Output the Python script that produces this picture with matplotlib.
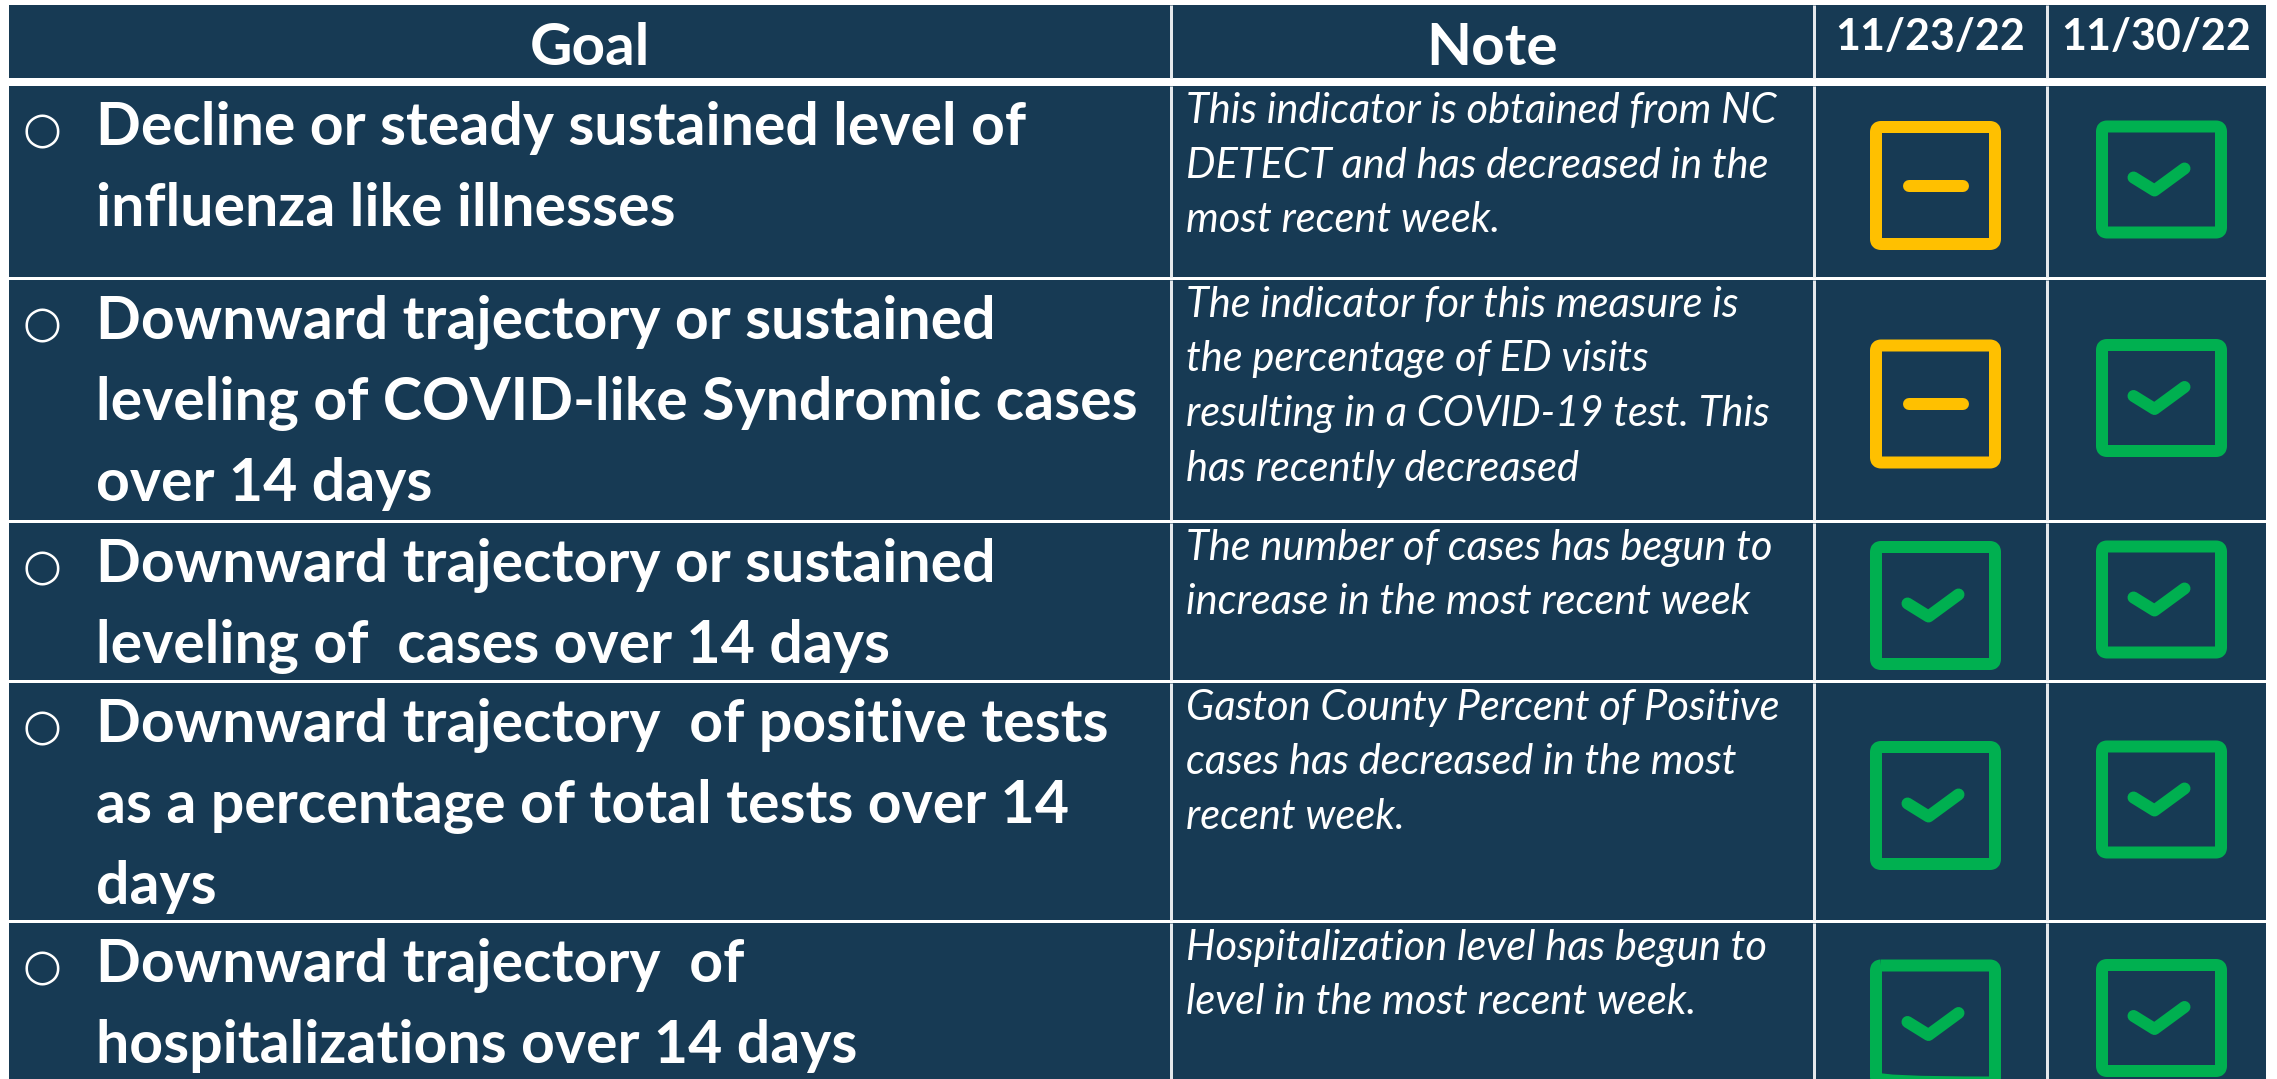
import matplotlib.pyplot as plt
from matplotlib.patches import Rectangle, FancyBboxPatch

# table content
headers = ["Goal", "Note", "11/23/22", "11/30/22"]

goals = [
    ["Decline or steady sustained level of", "influenza like illnesses"],
    ["Downward trajectory or sustained", "leveling of COVID-like Syndromic cases", "over 14 days"],
    ["Downward trajectory or sustained", "leveling of  cases over 14 days"],
    ["Downward trajectory  of positive tests", "as a percentage of total tests over 14", "days"],
    ["Downward trajectory  of", "hospitalizations over 14 days"],
]

notes = [
    ["This indicator is obtained from NC", "DETECT and has decreased in the", "most recent week."],
    ["The indicator for this measure is", "the percentage of ED visits",
     "resulting in a COVID-19 test. This", "has recently decreased"],
    ["The number of cases has begun to", "increase in the most recent week"],
    ["Gaston County Percent of Positive", "cases has decreased in the most", "recent week."],
    ["Hospitalization level has begun to", "level in the most recent week."],
]

# status per week: "steady" = yellow dash, "met" = green check
status_1123 = ["steady", "steady", "met", "met", "met"]
status_1130 = ["met", "met", "met", "met", "met"]

# layout (pixels)
W, H = 2277, 1079
col_edges = [9, 1171, 1814, 2047, 2266]
header_span = (5, 78)
row_tops = [86, 280, 523, 683, 923]
row_bots = [277, 520, 680, 920, 1117]

navy = "#173a54"
line_col = "#e4e8ec"
yellow = "#ffc000"
green = "#00b050"
px = 72 / 100  # points per pixel at dpi 100

fig = plt.figure(figsize=(W / 100, H / 100), dpi=100, facecolor="white")
ax = fig.add_axes([0, 0, 1, 1])
ax.set_xlim(0, W)
ax.set_ylim(H, 0)
ax.axis("off")

# cell backgrounds
bands = [header_span] + list(zip(row_tops, row_bots))
for top, bot in bands:
    ax.add_patch(Rectangle((col_edges[0], top), col_edges[-1] - col_edges[0], bot - top,
                           facecolor=navy, edgecolor="none"))
    for x in col_edges[1:-1]:
        ax.plot([x, x], [top, bot], color=line_col, lw=3 * px, solid_capstyle="butt")

# header
ax.text((col_edges[0] + col_edges[1]) / 2, 65, headers[0], color="white",
        fontsize=42, fontweight="bold", family="Lato", ha="center", va="baseline")
ax.text((col_edges[1] + col_edges[2]) / 2, 65, headers[1], color="white",
        fontsize=42, fontweight="bold", family="Lato", ha="center", va="baseline")
for i, lab in enumerate(headers[2:]):
    ax.text((col_edges[2 + i] + col_edges[3 + i]) / 2, 50, lab, color="white",
            fontsize=31, fontweight="bold", family="Lato", ha="center", va="baseline")

goal_step = 81
note_step = 54.5

for r in range(len(goals)):
    top = row_tops[r]
    base = top + 59
    ax.text(42, base - 14, "\u25cb", color="white", fontsize=32, family="DejaVu Sans",
            ha="center", va="center")
    for i, line in enumerate(goals[r]):
        ax.text(96, base + i * goal_step, line, color="white", fontsize=42.5,
                fontweight="bold", family="Lato", ha="left", va="baseline")
    nbase = top + 37
    for i, line in enumerate(notes[r]):
        ax.text(1186, nbase + i * note_step, line, color="white", fontsize=30,
                style="italic", family="Lato", ha="left", va="baseline")


def draw_icon(cx, cy, status, bh):
    col = yellow if status == "steady" else green
    bw = 119
    ax.add_patch(FancyBboxPatch((cx - bw / 2, cy - bh / 2), bw, bh,
                                boxstyle="round,pad=0,rounding_size=5",
                                facecolor="none", edgecolor=col, lw=12 * px,
                                joinstyle="round"))
    if status == "steady":
        ax.plot([cx - 27, cx + 27], [cy, cy], color=col, lw=12 * px,
                solid_capstyle="round")
    else:
        ax.plot([cx - 28, cx - 7, cx + 23], [cy - 2, cy + 11, cy - 11], color=col,
                lw=12 * px, solid_capstyle="round", solid_joinstyle="round")


box_heights = [117, 106]
box_dy = [4, -2]
for c, week in enumerate([status_1123, status_1130]):
    cx = (col_edges[2 + c] + col_edges[3 + c]) / 2 + 5
    for r, st in enumerate(week):
        cy = (row_tops[r] + row_bots[r]) / 2 + box_dy[c]
        draw_icon(cx, cy, st, box_heights[c])

fig.savefig("out.png", dpi=100, facecolor="white")
